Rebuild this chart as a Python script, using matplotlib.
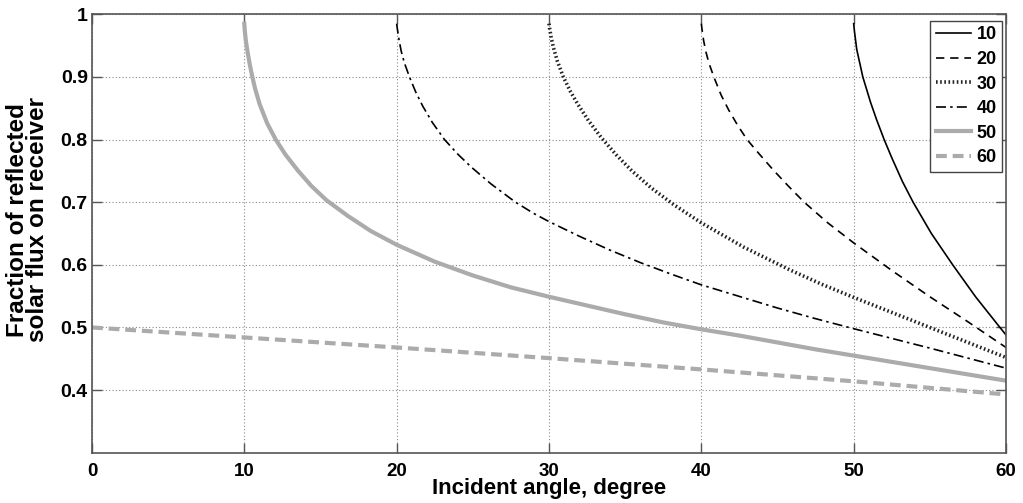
import numpy as np
import matplotlib
matplotlib.use("Agg")
import matplotlib.pyplot as plt

# values
x10 = [50.0, 50.05, 50.2, 50.6, 51.1, 51.5, 52.0, 52.5, 53.2, 53.9, 55.1, 56.5, 58.0, 59.6, 60.0]
y10 = [0.985, 0.973, 0.944, 0.9, 0.86, 0.832, 0.8, 0.771, 0.733, 0.7, 0.65, 0.6, 0.549, 0.5, 0.488]

x20 = [40.0, 40.05, 40.15, 40.3, 40.5, 40.82, 41.3, 41.8, 42.4, 43.0, 43.8, 44.7, 45.7,
       46.75, 48.3, 50.0, 52.5, 55.0, 57.5, 60.0]
y20 = [0.985, 0.975, 0.958, 0.94, 0.922, 0.9, 0.871, 0.847, 0.822, 0.8, 0.777, 0.752, 0.726,
       0.7, 0.667, 0.635, 0.591, 0.549, 0.509, 0.468]

x30 = [30.0, 30.05, 30.15, 30.3, 30.55, 30.94, 31.4, 31.9, 32.6, 33.47, 34.4, 35.44, 36.7,
       38.19, 40.0, 42.8, 45.8, 47.9, 50.0, 52.5, 55.0, 57.5, 60.0]
y30 = [0.985, 0.976, 0.962, 0.946, 0.925, 0.9, 0.877, 0.856, 0.83, 0.802, 0.776, 0.75, 0.723,
       0.696, 0.667, 0.628, 0.592, 0.569, 0.548, 0.524, 0.5, 0.476, 0.452]

x40 = [20.0, 20.05, 20.15, 20.3, 20.5, 20.84, 21.25, 21.72, 22.35, 23.14, 24.0, 24.9, 26.2,
       27.8, 29.0, 30.0, 32.0, 34.0, 36.0, 38.0, 40.0, 42.5, 45.0, 47.5, 50.0, 52.5, 55.0,
       57.5, 60.0]
y40 = [0.985, 0.976, 0.96, 0.941, 0.923, 0.9, 0.876, 0.853, 0.827, 0.8, 0.777, 0.756, 0.729,
       0.7, 0.682, 0.669, 0.6455, 0.6235, 0.6035, 0.5853, 0.568, 0.5495, 0.531, 0.514, 0.498,
       0.4825, 0.467, 0.451, 0.435]

x50 = [10.0, 10.03, 10.1, 10.2, 10.35, 10.5, 10.7, 11.0, 11.5, 12.06, 12.7, 13.5, 14.4,
       15.4, 16.8, 18.3, 20.0, 22.5, 25.0, 27.5, 30.0, 32.5, 35.0, 37.5, 40.0, 42.5, 45.0,
       47.5, 50.0, 55.0, 60.0]
y50 = [0.985, 0.974, 0.958, 0.942, 0.921, 0.903, 0.882, 0.857, 0.826, 0.8, 0.776, 0.751, 0.726,
       0.703, 0.678, 0.654, 0.632, 0.605, 0.583, 0.564, 0.549, 0.535, 0.521, 0.508, 0.497,
       0.487, 0.476, 0.465, 0.455, 0.435, 0.415]

x60 = [0, 10, 20, 30, 40, 50, 60]
y60 = [0.5, 0.484, 0.468, 0.451, 0.433, 0.414, 0.393]

labels = ["10", "20", "30", "40", "50", "60"]
xticks = [0, 10, 20, 30, 40, 50, 60]
yticks = [0.4, 0.5, 0.6, 0.7, 0.8, 0.9, 1.0]
ytick_labels = ["0.4", "0.5", "0.6", "0.7", "0.8", "0.9", "1"]

plt.rcParams['font.family'] = ['Liberation Sans', 'DejaVu Sans']
plt.rcParams['font.weight'] = 'bold'

fig = plt.figure(figsize=(10.23, 5.03), dpi=100)
ax = fig.add_axes([0.0899, 0.100, 0.8935, 0.8716])

gray = '#ababab'
ax.plot(x10, y10, color='black', lw=1.2, ls='-', label=labels[0])
ax.plot(x20, y20, color='black', lw=1.2, ls=(0, (5, 3.5)), label=labels[1])
ax.plot(x30, y30, color='#222222', lw=2.6, ls=(0, (0.45, 0.7)), label=labels[2])
ax.plot(x40, y40, color='black', lw=1.2, ls=(0, (6, 2.5, 1.5, 2.5)), label=labels[3])
ax.plot(x50, y50, color=gray, lw=3.0, ls='-', label=labels[4])
ax.plot(x60, y60, color=gray, lw=3.0, ls=(0, (2.6, 1.4)), label=labels[5])

ax.set_xlim(0, 60)
ax.set_ylim(0.3, 1.0)
ax.set_xticks(xticks)
ax.set_yticks(yticks)
ax.set_yticklabels(ytick_labels)
ax.grid(True, color='#8a8a8a', ls=(0, (1, 2)), lw=0.8)

ax.tick_params(direction='in', top=True, right=True, length=7, width=1.0,
               color='#555555')
ax.tick_params(axis='y', labelsize=14, pad=3)
ax.tick_params(axis='x', labelsize=13.5, pad=7.5)
for s in ax.spines.values():
    s.set_color('#555555')
    s.set_linewidth(1.2)

ax.set_xlabel('Incident angle, degree', fontsize=16, fontweight='bold')
ax.xaxis.set_label_coords(0.5, -0.058)
ax.set_ylabel('Fraction of reflected\nsolar flux on receiver', fontsize=17.5,
              fontweight='bold', linespacing=0.85)
ax.yaxis.set_label_coords(-0.047, 0.531)

leg = ax.legend(loc='upper right', bbox_to_anchor=(0.9956, 0.9847),
                borderaxespad=0, fontsize=13, handlelength=1.95,
                handletextpad=0.3, labelspacing=0.42, borderpad=0.3,
                fancybox=False, framealpha=1)
leg.get_frame().set_edgecolor('#444444')
leg.get_frame().set_linewidth(1.0)
for t in leg.get_texts():
    t.set_fontweight('bold')

fig.savefig('out.png', dpi=100)
